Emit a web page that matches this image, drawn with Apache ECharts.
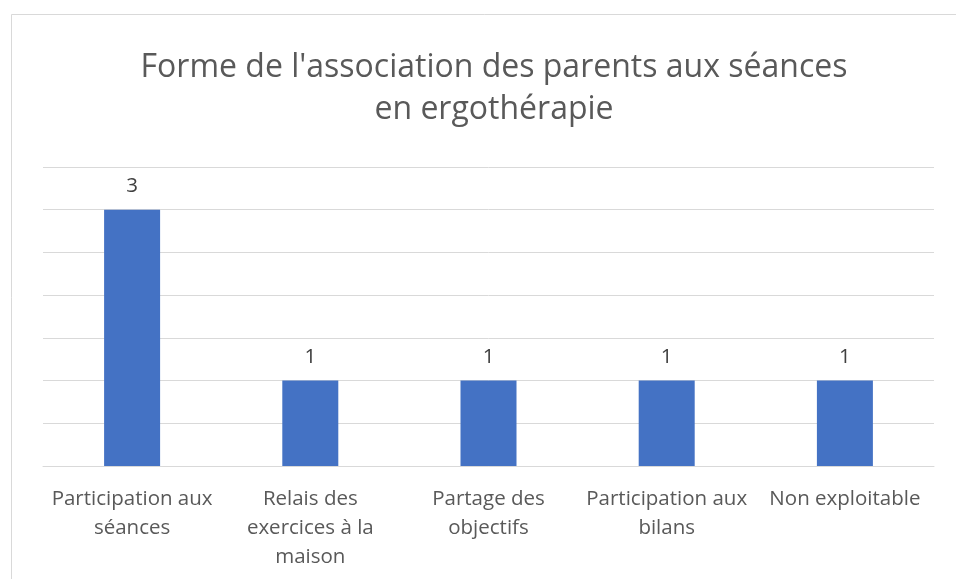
<!DOCTYPE html>
<html><head><meta charset="utf-8">
<script src="https://cdn.jsdelivr.net/npm/echarts@6/dist/echarts.min.js"></script>
<style>html,body{margin:0;padding:0;background:#fff}#c{width:956px;height:579px}</style>
</head><body><div id="c"></div>
<script>
var titleText = "Forme de l'association des parents aux séances\nen ergothérapie";
var categories = ["Participation aux\nséances", "Relais des\nexercices à la\nmaison", "Partage des\nobjectifs", "Participation aux\nbilans", "Non exploitable"];
var values = [3, 1, 1, 1, 1];
var yMin = 0, yMax = 3.5, yInterval = 0.5;

var chart = echarts.init(document.getElementById('c'), null, {renderer: 'canvas'});
chart.setOption({
  animation: false,
  backgroundColor: '#fff',
  graphic: [{
    type: 'rect', left: 9, top: 12, shape: {width: 960, height: 600},
    style: {fill: 'none', stroke: '#d9d9d9', lineWidth: 1}, silent: true
  }],
  title: {
    text: titleText, left: 489, top: 42, textAlign: 'center',
    textStyle: {fontFamily: 'Open Sans', fontSize: 32, fontWeight: 'normal', color: '#595959', lineHeight: 42}
  },
  grid: {left: 43, right: 22, top: 167, bottom: 113, containLabel: false},
  xAxis: {
    type: 'category', data: categories,
    axisLine: {show: true, lineStyle: {color: '#d9d9d9', width: 1}},
    axisTick: {show: false},
    axisLabel: {interval: 0, margin: 19, fontFamily: 'Open Sans', fontSize: 20.5, color: '#595959', lineHeight: 29}
  },
  yAxis: {
    type: 'value', min: yMin, max: yMax, interval: yInterval,
    axisLabel: {show: false}, axisLine: {show: false}, axisTick: {show: false},
    splitLine: {lineStyle: {color: '#d9d9d9', width: 1}}
  },
  series: [{
    type: 'bar', data: values, barWidth: 56,
    itemStyle: {color: '#4472C4'},
    label: {show: true, position: 'top', distance: 13, fontFamily: 'Open Sans', fontSize: 20.5, color: '#404040'}
  }]
});
</script></body></html>
